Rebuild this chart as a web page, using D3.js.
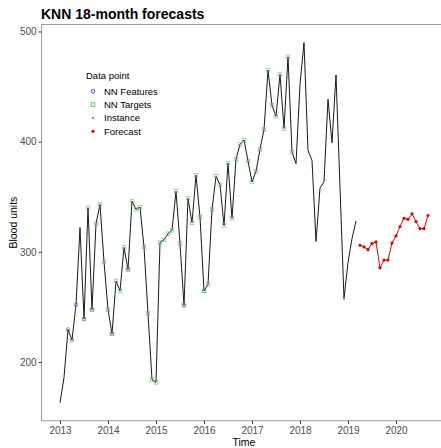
<!DOCTYPE html>
<html>
<head>
<meta charset="utf-8">
<script src="https://cdn.jsdelivr.net/npm/d3@7"></script>
<style>
  body { margin: 0; background: #fff; }
  text { font-family: "Liberation Sans", Arial, sans-serif; }
</style>
</head>
<body>
<div id="chart"></div>
<script>
// monthly series, starts Jan 2013
var startYear = 2013;
var blood = [163, 186, 229.5, 220, 252, 322, 239, 340, 247.5, 325.5, 343, 291,
    247.5, 225.5, 273.5, 264.5, 304, 284, 346, 338.5, 340.5, 304.5, 244, 184,
    181.5, 308.5, 311, 316.5, 319.5, 355, 307.5, 251.5, 348.5, 326.5, 369.5, 331.5,
    264.5, 270.5, 338.5, 368.5, 361, 324, 380.5, 330.5, 384, 397.5, 401.5, 382.5,
    363.5, 373, 393, 411, 465, 433, 423, 461, 412, 477, 390.5, 380,
    452, 490, 392, 383, 309.5, 358, 363.5, 438.5, 399, 460.5, 358, 257.5,
    290.5, 312, 328];
// forecast, starts Apr 2019 (month index 75)
var forecastStart = 75;
var forecast = [306, 304.5, 302, 307.5, 309, 285.5, 292.5, 292.5, 308, 314.5,
    323, 330.5, 329.5, 334.5, 327.5, 321, 321, 333];
var featureIdx = [2, 3, 4, 6, 8, 13, 17, 31, 36];
var targetIdx = [6, 7, 8, 9, 10, 11, 12, 13, 14, 15, 16, 17, 18, 19, 20, 21, 22, 23,
    24, 25, 26, 27, 28, 29, 30, 31, 32, 33, 34, 35, 36, 37, 38, 39, 40, 41, 42, 43,
    44, 45, 46, 47, 48, 49, 50, 51, 52, 53, 54, 55, 56, 57, 58];
var instanceIdx = [71];
var xTicks = [2013, 2014, 2015, 2016, 2017, 2018, 2019, 2020];
var yTicks = [200, 300, 400, 500];
var legendLabels = ["NN Features", "NN Targets", "Instance", "Forecast"];

var W = 441, H = 448;
var colFeat = "#3a3ad6", colTarg = "#5fbf5f", colInst = "#d070c8", colFc = "#e60000";

var svg = d3.select("#chart").append("svg")
    .attr("width", W)
    .attr("height", H);

var series = blood.map(function (v, i) { return {t: startYear + i / 12, v: v, i: i}; });
var fc = forecast.map(function (v, i) { return {t: startYear + (forecastStart + i) / 12, v: v}; });

var allV = blood.concat(forecast);
var yExt = d3.extent(allV), yPad = (yExt[1] - yExt[0]) * 0.05;
var xExt = [startYear, startYear + (forecastStart + forecast.length - 1) / 12];
var xPad = (xExt[1] - xExt[0]) * 0.05;

var x = d3.scaleLinear().domain([2013, 2020]).range([60, 396]);
var y = d3.scaleLinear().domain([yExt[0] - yPad, yExt[1] + yPad]).range([420.8, 24.5]);

var pLeft = x(xExt[0] - xPad), pRight = x(xExt[1] + xPad);
var pTop = y.range()[1], pBottom = y.range()[0];

// panel border
svg.append("rect")
    .attr("x", pLeft)
    .attr("y", pTop)
    .attr("width", pRight - pLeft)
    .attr("height", pBottom - pTop)
    .attr("fill", "none")
    .attr("stroke", "#9a9a9a")
    .attr("stroke-width", 1);

// axes
var gx = svg.append("g")
    .attr("transform", "translate(0," + pBottom + ")")
    .call(d3.axisBottom(x).tickValues(xTicks).tickFormat(d3.format("d")).tickSize(3).tickPadding(3));
var gy = svg.append("g")
    .attr("transform", "translate(" + pLeft + ",0)")
    .call(d3.axisLeft(y).tickValues(yTicks).tickSize(3).tickPadding(2));
[gx, gy].forEach(function (g) {
    g.select(".domain").remove();
    g.selectAll(".tick line").attr("stroke", "#333");
    g.selectAll(".tick text")
        .attr("fill", "#4d4d4d")
        .style("font-size", "10px")
        .style("font-family", "Liberation Sans, Arial, sans-serif");
});

svg.append("text")
    .attr("x", 244)
    .attr("y", 445.5)
    .attr("text-anchor", "middle")
    .style("font-size", "10.5px")
    .text("Time");

svg.append("text")
    .attr("transform", "translate(17," + (pTop + pBottom) / 2 + ") rotate(-90)")
    .attr("text-anchor", "middle")
    .style("font-size", "10.5px")
    .text("Blood units");

svg.append("text")
    .attr("x", 41)
    .attr("y", 19)
    .style("font-size", "14px")
    .style("font-weight", "bold")
    .text("KNN 18-month forecasts");

// series line
var line = d3.line()
    .x(function (d) { return x(d.t); })
    .y(function (d) { return y(d.v); });

svg.append("path")
    .datum(series)
    .attr("d", line)
    .attr("fill", "none")
    .attr("stroke", "#1a1a1a")
    .attr("stroke-width", 1);

// NN features
svg.append("g").selectAll("circle")
    .data(featureIdx.map(function (i) { return series[i]; }))
    .enter().append("circle")
    .attr("cx", function (d) { return x(d.t); })
    .attr("cy", function (d) { return y(d.v); })
    .attr("r", 1.8)
    .attr("fill", "none")
    .attr("stroke", colFeat)
    .attr("stroke-opacity", 0.7)
    .attr("stroke-width", 0.8);

// NN targets
svg.append("g").selectAll("rect")
    .data(targetIdx.map(function (i) { return series[i]; }))
    .enter().append("rect")
    .attr("x", function (d) { return x(d.t) - 1.8; })
    .attr("y", function (d) { return y(d.v) - 1.8; })
    .attr("width", 3.6)
    .attr("height", 3.6)
    .attr("fill", "none")
    .attr("stroke", colTarg)
    .attr("stroke-opacity", 0.75)
    .attr("stroke-width", 0.8);

// instance
svg.append("g").selectAll("circle")
    .data(instanceIdx.map(function (i) { return series[i]; }))
    .enter().append("circle")
    .attr("cx", function (d) { return x(d.t); })
    .attr("cy", function (d) { return y(d.v); })
    .attr("r", 1.3)
    .attr("fill", colInst);

// forecast
svg.append("path")
    .datum(fc)
    .attr("d", line)
    .attr("fill", "none")
    .attr("stroke", colFc)
    .attr("stroke-width", 1);

svg.append("g").selectAll("circle")
    .data(fc)
    .enter().append("circle")
    .attr("cx", function (d) { return x(d.t); })
    .attr("cy", function (d) { return y(d.v); })
    .attr("r", 1.6)
    .attr("fill", colFc);

// legend
var lg = svg.append("g").attr("transform", "translate(86,0)");
lg.append("text")
    .attr("x", 0)
    .attr("y", 78.5)
    .style("font-size", "9.5px")
    .text("Data point");

var item = lg.selectAll(".item")
    .data(legendLabels)
    .enter().append("g")
    .attr("class", "item")
    .attr("transform", function (d, i) { return "translate(0," + (91.3 + i * 13.33) + ")"; });

item.append("text")
    .attr("x", 18)
    .attr("y", 3.4)
    .style("font-size", "9.5px")
    .text(function (d) { return d; });

item.each(function (d, i) {
    var g = d3.select(this);
    if (i === 0) {
        g.append("circle").attr("cx", 7).attr("cy", 0).attr("r", 1.8)
            .attr("fill", "none").attr("stroke", colFeat).attr("stroke-width", 0.9);
    } else if (i === 1) {
        g.append("rect").attr("x", 5.2).attr("y", -1.8).attr("width", 3.6).attr("height", 3.6)
            .attr("fill", "none").attr("stroke", colTarg).attr("stroke-width", 0.9);
    } else if (i === 2) {
        g.append("circle").attr("cx", 7).attr("cy", 0).attr("r", 1.3).attr("fill", colInst);
    } else {
        g.append("circle").attr("cx", 7).attr("cy", 0).attr("r", 1.6).attr("fill", colFc);
    }
});
</script>
</body>
</html>
